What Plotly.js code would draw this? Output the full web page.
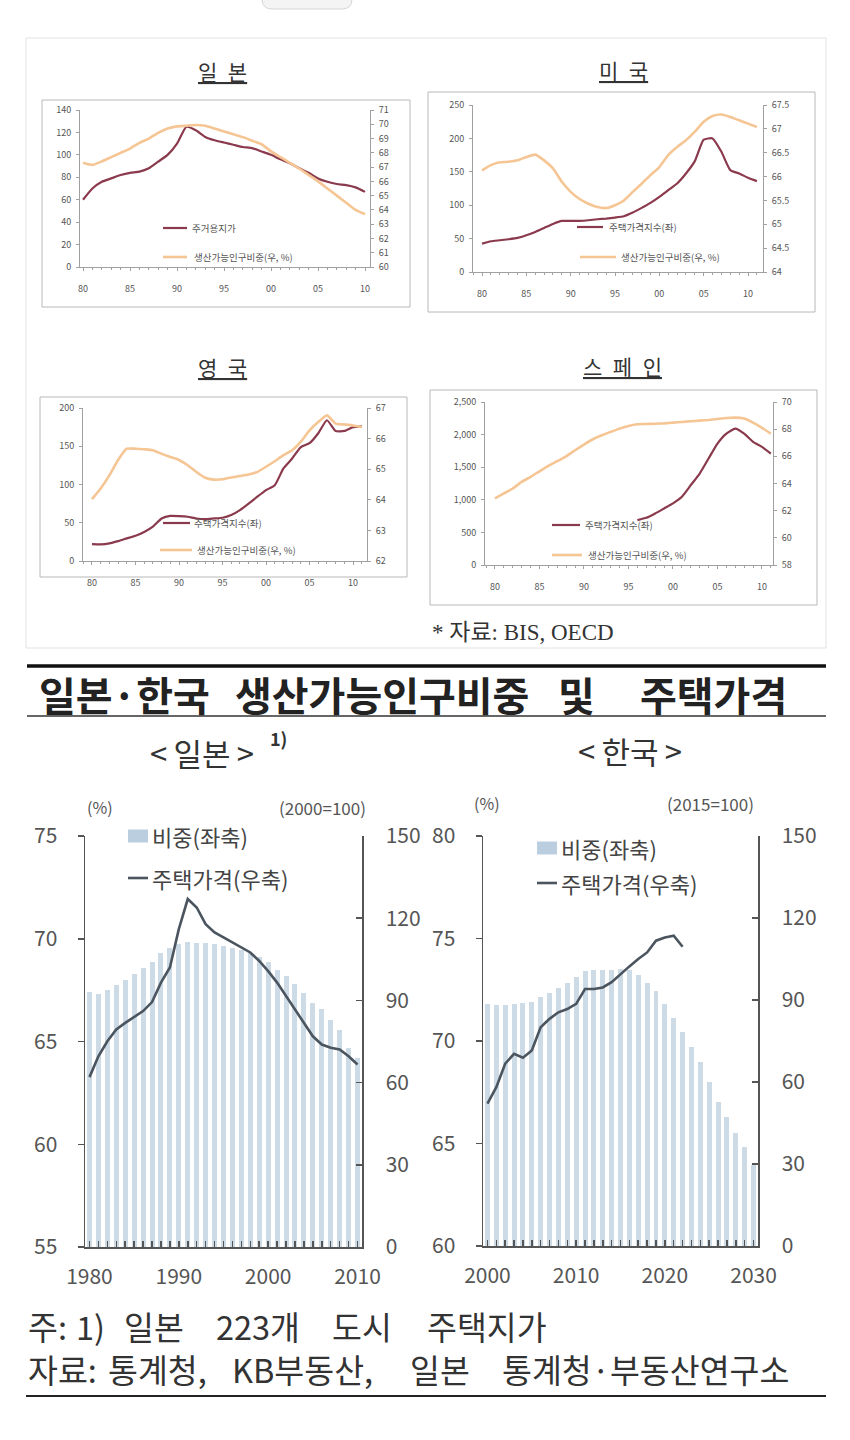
<!DOCTYPE html>
<html><head><meta charset="utf-8">
<script src="https://cdn.plot.ly/plotly-3.0.1.min.js"></script>
<style>html,body{margin:0;padding:0;background:#fff;}#chart{width:850px;height:1440px;}</style>
</head><body><div id="chart"></div>
<script>
// ---------------- DATA ----------------
const yrs1980to2010 = [1980,1981,1982,1983,1984,1985,1986,1987,1988,1989,1990,1991,1992,1993,1994,1995,1996,1997,1998,1999,2000,2001,2002,2003,2004,2005,2006,2007,2008,2009,2010];
const yrs1980to2011 = [1980,1981,1982,1983,1984,1985,1986,1987,1988,1989,1990,1991,1992,1993,1994,1995,1996,1997,1998,1999,2000,2001,2002,2003,2004,2005,2006,2007,2008,2009,2010,2011];
const spainPriceYears = [1996,1997,1998,1999,2000,2001,2002,2003,2004,2005,2006,2007,2008,2009,2010,2011];
const yrs2000to2030 = [2000,2001,2002,2003,2004,2005,2006,2007,2008,2009,2010,2011,2012,2013,2014,2015,2016,2017,2018,2019,2020,2021,2022,2023,2024,2025,2026,2027,2028,2029,2030];
const krPriceYears = [2000,2001,2002,2003,2004,2005,2006,2007,2008,2009,2010,2011,2012,2013,2014,2015,2016,2017,2018,2019,2020,2021,2022];

// Top panels (BIS, OECD)
const jpTopLand    = [60,70,76,79,82,84,85,88,94,100,110,125,122,116,113,111,109,107,106,103,100,96,92.5,88,84,79,76,74,73,71,67];
const jpTopWorking = [67.3,67.15,67.4,67.7,68.0,68.3,68.7,69.0,69.4,69.7,69.85,69.9,69.95,69.9,69.7,69.5,69.3,69.1,68.85,68.6,68.1,67.7,67.3,66.9,66.45,66.0,65.5,65.0,64.5,64.0,63.7];
const usPrice   = [42.5,46,47.5,49,51,55,60,66,72,76.5,76.5,76.5,77.5,79,80,81.5,83.5,89,96,103.5,112.5,122.5,132.5,147.5,166,198,200,180,152.5,147.5,141,136];
const usWorking = [66.13,66.24,66.3,66.31,66.34,66.41,66.46,66.34,66.17,65.89,65.68,65.53,65.43,65.36,65.34,65.4,65.5,65.68,65.85,66.03,66.2,66.45,66.62,66.76,66.94,67.15,67.27,67.3,67.25,67.18,67.11,67.04];
const ukPrice   = [22,21.7,23,26,29.6,33,38,45,55.6,59,58.7,57.8,55.6,54.8,55.6,56.5,60,66.5,75,84,92.6,99,121,134,149,154,167,184,170,170,175,176];
const ukWorking = [64.02,64.37,64.8,65.3,65.67,65.67,65.65,65.62,65.5,65.4,65.3,65.13,64.91,64.72,64.66,64.67,64.73,64.78,64.83,64.91,65.08,65.26,65.46,65.62,65.9,66.27,66.54,66.76,66.49,66.46,66.43,66.38];
const spainPrice   = [689,724,791,867,944,1046,1224,1403,1633,1862,2015,2092,2015,1888,1811,1709];
const spainWorking = [62.9,63.27,63.63,64.12,64.49,64.9,65.3,65.64,66.0,66.45,66.87,67.26,67.55,67.8,68.04,68.24,68.36,68.38,68.4,68.43,68.48,68.53,68.58,68.63,68.68,68.75,68.82,68.85,68.78,68.48,68.1,67.67];
const topTickVals = [1980,1985,1990,1995,2000,2005,2010];
const topTickText = ['80','85','90','95','00','05','10'];

// Bottom panels (Japan / Korea)
const jpShare = [67.4,67.3,67.5,67.75,68.0,68.27,68.6,68.87,69.3,69.57,69.73,69.85,69.8,69.78,69.76,69.65,69.57,69.44,69.33,69.1,68.87,68.5,68.19,67.78,67.37,66.88,66.59,66.07,65.58,64.69,64.2];
const jpPrice = [62,69.6,75.1,79.4,81.8,84,86.1,89.4,96.5,102,116,127,123.9,117.8,114.8,113,111.1,109.3,107.5,104.4,100.7,96.5,91.6,86.7,81.8,76.9,73.9,72.7,72.1,69.6,66.6];
const krShare = [71.8,71.76,71.76,71.8,71.87,71.92,72.16,72.36,72.57,72.81,73.14,73.43,73.46,73.46,73.46,73.5,73.46,73.22,72.85,72.46,71.8,71.1,70.45,69.72,68.99,68.01,67.04,66.3,65.5,64.84,63.95];
const krPrice = [52.1,58.1,66.7,70.3,68.9,71.5,80,83.1,85.5,86.7,88.6,94,94,94.6,96.5,99.5,102.3,105,107.4,111.7,112.9,113.5,109.5];
const jpBottomTicks = [1980,1990,2000,2010];
const krBottomTicks = [2000,2010,2020,2030];

// ---------------- STYLE ----------------
const FONT = "'Noto Sans CJK KR', 'Noto Sans', sans-serif";
const RED = '#8a3a4c', ORANGE = '#f5c594', AX = '#a0a0a0';
const BAR = '#cddbe6', DARKLINE = '#4b555f', BAX = '#555';
const X = px => px / 850, Y = py => 1 - py / 1440;

function topX(l, r, anchor, range) {
  return {domain:[X(l),X(r)], range, anchor, showline:true, linecolor:AX, linewidth:1,
    ticks:'outside', ticklen:3, tickcolor:AX, tickmode:'array', tickvals:topTickVals, ticktext:topTickText,
    tickfont:{family:FONT,size:9,color:'#555'}, showgrid:false, zeroline:false, ticklabelstandoff:10,
    minor:{tick0:1980, dtick:1, ticks:'outside', ticklen:2, tickcolor:AX, showgrid:false}, fixedrange:true};
}
function topY(t, b, anchor, range, dtick, fmt) {
  return {domain:[Y(b),Y(t)], range, anchor, dtick, tickformat:fmt||'', showline:true, linecolor:AX, linewidth:1,
    ticks:'outside', ticklen:3, tickcolor:AX, tickfont:{family:FONT,size:9,color:'#555'}, showgrid:false,
    zeroline:false, ticklabelstandoff:3, fixedrange:true};
}
function topY2(overlay, anchor, range, dtick) {
  return {overlaying:overlay, side:'right', anchor, range, dtick, showline:true, linecolor:AX, linewidth:1,
    ticks:'outside', ticklen:3, tickcolor:AX, tickfont:{family:FONT,size:9,color:'#555'}, showgrid:false,
    zeroline:false, ticklabelstandoff:3, fixedrange:true};
}
function botX(l, r, anchor, range, tickvals) {
  return {domain:[X(l),X(r)], range, anchor, showline:true, linecolor:BAX, linewidth:1.5,
    ticks:'inside', ticklen:6, tickcolor:BAX, tickwidth:1.5, tickmode:'array', tickvals,
    tickfont:{family:FONT,size:21,color:'#555'}, showgrid:false, zeroline:false, ticklabelstandoff:10,
    minor:{tick0:range[0]+0.5, dtick:1, ticks:'inside', ticklen:6, tickcolor:BAX, tickwidth:1.5, showgrid:false}, fixedrange:true};
}
function botY(t, b, anchor, range, dtick) {
  return {domain:[Y(b),Y(t)], range, anchor, dtick, showline:true, linecolor:BAX, linewidth:1.5,
    ticks:'outside', ticklen:6, tickcolor:BAX, tickwidth:1.5, tickfont:{family:FONT,size:21,color:'#555'},
    showgrid:false, zeroline:false, ticklabelstandoff:16, fixedrange:true};
}
function botY2(overlay, anchor, range, dtick) {
  return {overlaying:overlay, side:'right', anchor, range, dtick, showline:true, linecolor:BAX, linewidth:1.5,
    ticks:'inside', ticklen:6, tickcolor:BAX, tickwidth:1.5, tickfont:{family:FONT,size:21,color:'#555'},
    showgrid:false, zeroline:false, ticklabelstandoff:18, fixedrange:true};
}

// ---------------- TRACES ----------------
const redLine = {color:RED, width:2.2, shape:'spline', smoothing:0.5};
const orLine = {color:ORANGE, width:2.6, shape:'spline', smoothing:0.5};
const traces = [
  {type:'scatter', mode:'lines', x:yrs1980to2010, y:jpTopLand, xaxis:'x', yaxis:'y', line:redLine},
  {type:'scatter', mode:'lines', x:yrs1980to2010, y:jpTopWorking, xaxis:'x', yaxis:'y2', line:orLine},
  {type:'scatter', mode:'lines', x:yrs1980to2011, y:usPrice, xaxis:'x2', yaxis:'y3', line:redLine},
  {type:'scatter', mode:'lines', x:yrs1980to2011, y:usWorking, xaxis:'x2', yaxis:'y4', line:orLine},
  {type:'scatter', mode:'lines', x:yrs1980to2011, y:ukPrice, xaxis:'x3', yaxis:'y5', line:redLine},
  {type:'scatter', mode:'lines', x:yrs1980to2011, y:ukWorking, xaxis:'x3', yaxis:'y6', line:orLine},
  {type:'scatter', mode:'lines', x:spainPriceYears, y:spainPrice, xaxis:'x4', yaxis:'y7', line:redLine},
  {type:'scatter', mode:'lines', x:yrs1980to2011, y:spainWorking, xaxis:'x4', yaxis:'y8', line:orLine},
  {type:'bar', x:yrs1980to2010, y:jpShare, xaxis:'x5', yaxis:'y9', width:0.56, marker:{color:BAR}},
  {type:'scatter', mode:'lines', x:yrs1980to2010, y:jpPrice, xaxis:'x5', yaxis:'y10', line:{color:DARKLINE, width:2.6}},
  {type:'bar', x:yrs2000to2030, y:krShare, xaxis:'x6', yaxis:'y11', width:0.56, marker:{color:BAR}},
  {type:'scatter', mode:'lines', x:krPriceYears, y:krPrice, xaxis:'x6', yaxis:'y12', line:{color:DARKLINE, width:2.6}}
];

// ---------------- ANNOTATIONS / SHAPES ----------------
const ann = [], shp = [];
function txt(x, y, text, size, o) {
  ann.push(Object.assign({xref:'paper', yref:'paper', x:X(x), y:Y(y), text, showarrow:false,
    xanchor:'center', yanchor:'middle', font:{family:FONT, size, color:'#333'}}, o || {}));
}
function ltxt(x, y, text, size, color) {
  txt(x, y, text, size, {xanchor:'left', font:{family:FONT, size, color:color || '#333'}});
}
function hline(x0, x1, y, color, width) {
  shp.push({type:'line', xref:'paper', yref:'paper', x0:X(x0), x1:X(x1), y0:Y(y), y1:Y(y), line:{color, width}});
}
function box(x0, y0, x1, y1, color, width, fill) {
  shp.push({type:'rect', xref:'paper', yref:'paper', x0:X(x0), x1:X(x1), y0:Y(y1), y1:Y(y0),
    line:{color, width}, fillcolor:fill || 'rgba(0,0,0,0)'});
}

// top strip remnants
shp.push({type:'path', xref:'paper', yref:'paper', line:{color:'#d6d6d6', width:1}, fillcolor:'#f4f4f4',
  path:`M ${X(272)},${Y(-12)} L ${X(342)},${Y(-12)} Q ${X(352)},${Y(-12)} ${X(352)},${Y(-1)} Q ${X(352)},${Y(9)} ${X(342)},${Y(9)} L ${X(272)},${Y(9)} Q ${X(262)},${Y(9)} ${X(262)},${Y(-1)} Q ${X(262)},${Y(-12)} ${X(272)},${Y(-12)} Z`});
box(26, 38, 826, 648, '#e2e2e2', 1);

// top chart frames
box(42, 100, 410, 307, '#b8b8b8', 1);
box(428, 92, 815, 312, '#b8b8b8', 1);
box(40, 397, 407, 577, '#b8b8b8', 1);
box(430, 390, 817, 605, '#b8b8b8', 1);

// top chart titles
txt(223, 71, '<u>일\u2002본</u>', 21);
txt(623, 70, '<u>미\u2002국</u>', 21);
txt(223, 367, '<u>영\u2002국</u>', 21);
txt(622, 366, '<u>스\u2002페\u2002인</u>', 21);

// top chart legends
const legFont = 9.5;
function topLegend(x0, x1, y, color, label, tx) {
  hline(x0, x1, y, color, color === RED ? 2.2 : 2.6);
  ltxt(tx, y, label, legFont, '#555');
}
topLegend(163, 187, 228, RED, '주거용지가', 190);
topLegend(163, 187, 257, ORANGE, '생산가능인구비중(우, %)', 192);
topLegend(577, 603, 227, RED, '주택가격지수(좌)', 607);
topLegend(580, 616, 257, ORANGE, '생산가능인구비중(우, %)', 619);
topLegend(163, 190, 523, RED, '주택가격지수(좌)', 192);
topLegend(160, 192, 550, ORANGE, '생산가능인구비중(우, %)', 195);
topLegend(552, 580, 525, RED, '주택가격지수(좌)', 583);
topLegend(552, 582, 555, ORANGE, '생산가능인구비중(우, %)', 586);
txt(430, 632, '* 자료: BIS, OECD', 23, {xanchor:'left', font:{family:"'Liberation Serif', 'Noto Sans CJK KR', serif", size:23, color:'#333'}});

// bottom section
hline(27, 826, 666, '#111', 3.5);
const TS = 40;
ltxt(37, 694, '<b>일본·한국</b>', TS, '#222');
ltxt(233, 694, '<b>생산가능인구비중</b>', TS, '#222');
ltxt(556, 694, '<b>및</b>', TS, '#222');
ltxt(638, 694, '<b>주택가격</b>', TS, '#222');
hline(27, 826, 716, '#333', 1.5);
txt(202, 752, '&lt;\u2009일본\u2009&gt;', 31);
txt(278, 738, '<b>1)</b>', 18);
txt(630, 750, '&lt;\u2009한국\u2009&gt;', 31);
txt(100, 807, '(%)', 16, {font:{family:FONT, size:16, color:'#555'}});
txt(322, 807, '(2000=100)', 17, {font:{family:FONT, size:17, color:'#555'}});
txt(487, 803, '(%)', 16, {font:{family:FONT, size:16, color:'#555'}});
txt(710, 803, '(2015=100)', 17, {font:{family:FONT, size:17, color:'#555'}});

function botLegend(x0, ySq, yLn) {
  box(x0, ySq - 6.5, x0 + 20, ySq + 6.5, 'rgba(0,0,0,0)', 0, '#bacee0');
  ltxt(x0 + 22, ySq, '비중(좌축)', 22, '#444');
  hline(x0, x0 + 20, yLn, DARKLINE, 2.6);
  ltxt(x0 + 22, yLn, '주택가격(우축)', 22, '#444');
}
botLegend(128, 836, 878);
botLegend(537, 848, 883);

// footnotes (word positions follow the source's wide spacing)
const FS = 32.5;
const L1 = 1325, L2 = 1368;
ltxt(26, L1, '주:', FS); ltxt(74, L1, '1)', FS); ltxt(122, L1, '일본', FS);
ltxt(214, L1, '223개', FS); ltxt(330, L1, '도시', FS); ltxt(425, L1, '주택지가', FS);
ltxt(26, L2, '자료:', FS); ltxt(106, L2, '통계청,', FS); ltxt(230, L2, 'KB부동산,', FS);
ltxt(408, L2, '일본', FS); ltxt(500, L2, '통계청·부동산연구소', FS);
hline(26, 826, 1396, '#222', 2);

// ---------------- LAYOUT ----------------
const layout = {
  width:850, height:1440, margin:{l:0,r:0,t:0,b:0}, paper_bgcolor:'#fff', plot_bgcolor:'rgba(0,0,0,0)',
  showlegend:false, bargap:0,
  font:{family:FONT, color:'#333'},
  xaxis:  topX(80, 370, 'y', [1979.68, 2010.53]),
  yaxis:  topY(110, 267, 'x', [0, 140], 20),
  yaxis2: topY2('y', 'x', [60, 71], 1),
  xaxis2: topX(473, 763, 'y3', [1978.98, 2011.69]),
  yaxis3: topY(105, 272, 'x2', [0, 250], 50),
  yaxis4: topY2('y3', 'x2', [64, 67.5], 0.5),
  xaxis3: topX(83, 367, 'y5', [1978.97, 2011.6]),
  yaxis5: topY(408, 561, 'x3', [0, 200], 50),
  yaxis6: topY2('y5', 'x3', [62, 67], 1),
  xaxis4: topX(485, 773, 'y7', [1978.88, 2011.24]),
  yaxis7: topY(402, 565, 'x4', [0, 2500], 500, ',d'),
  yaxis8: topY2('y7', 'x4', [58, 70], 2),
  xaxis5: botX(85, 362, 'y9', [1979.5, 2010.5], jpBottomTicks),
  yaxis9: botY(836, 1247, 'x5', [55, 75], 5),
  yaxis10: botY2('y9', 'x5', [0, 150], 30),
  xaxis6: botX(483, 758, 'y11', [1999.5, 2030.5], krBottomTicks),
  yaxis11: botY(836, 1246, 'x6', [60, 80], 5),
  yaxis12: botY2('y11', 'x6', [0, 150], 30),
  annotations: ann, shapes: shp
};
Plotly.newPlot('chart', traces, layout, {displayModeBar:false, staticPlot:true});
</script></body></html>
